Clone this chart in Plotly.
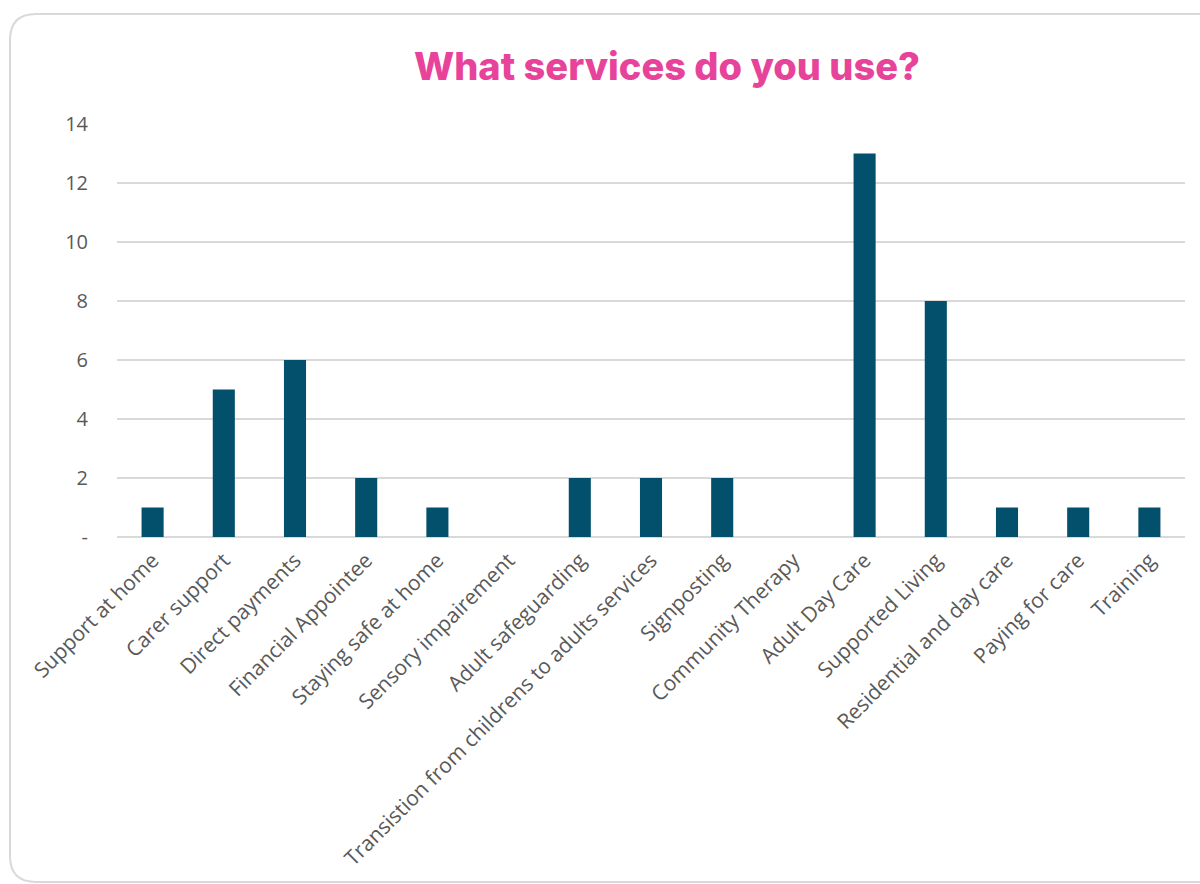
import plotly.graph_objects as go

# Survey responses: which services people use
services = [
    "Support at home", "Carer support", "Direct payments", "Financial Appointee",
    "Staying safe at home", "Sensory impairement", "Adult safeguarding",
    "Transistion from childrens to adults services", "Signposting",
    "Community Therapy", "Adult Day Care", "Supported Living",
    "Residential and day care", "Paying for care", "Training",
]
counts = [1, 5, 6, 2, 1, 0, 2, 2, 2, 0, 13, 8, 1, 1, 1]

y_ticks = [0, 2, 4, 6, 8, 10, 12, 14]
y_tick_text = ["-", "2", "4", "6", "8", "10", "12", "14"]

W, H = 1200, 884
L, R, T, B = 117, 15, 124, 347

fig = go.Figure(
    go.Bar(
        x=services,
        y=counts,
        marker=dict(color="#02506B", line=dict(width=0)),
        hoverinfo="x+y",
    )
)

# card outline with rounded corners, in pixel units converted to paper coords
def px(x):
    return (x - L) / (W - L - R)

def py(y):
    return (H - B - y) / (H - T - B)

r = 26
x0, y0, y1 = 10, 14, 882
path = (
    f"M {px(W + 5)},{py(y0)} L {px(x0 + r)},{py(y0)} "
    f"Q {px(x0)},{py(y0)} {px(x0)},{py(y0 + r)} "
    f"L {px(x0)},{py(y1 - r)} "
    f"Q {px(x0)},{py(y1)} {px(x0 + r)},{py(y1)} "
    f"L {px(W + 5)},{py(y1)}"
)

fig.update_layout(
    width=W,
    height=H,
    margin=dict(l=L, r=R, t=T, b=B, pad=0),
    paper_bgcolor="white",
    plot_bgcolor="white",
    bargap=0.69,
    showlegend=False,
    title=dict(
        text="What services do you use?",
        x=667 / W,
        xanchor="center",
        y=1 - 67 / H,
        yanchor="middle",
        font=dict(family="Inter, Lato, sans-serif", size=38, color="#E8439A", weight=800),
    ),
    font=dict(family="Open Sans, sans-serif", color="#595959", size=20),
    shapes=[
        dict(
            type="path",
            path=path,
            xref="paper",
            yref="paper",
            line=dict(color="#d9d9d9", width=2),
            layer="below",
        )
    ],
)

fig.update_xaxes(
    tickangle=-45,
    showgrid=False,
    showline=False,
    ticks="",
    ticklabelstandoff=6,
    tickfont=dict(size=21, color="#595959"),
)
fig.update_yaxes(
    range=[0, 14],
    tickvals=y_ticks,
    ticktext=y_tick_text,
    showgrid=True,
    gridcolor="#d9d9d9",
    gridwidth=1.5,
    zeroline=True,
    zerolinecolor="#d9d9d9",
    zerolinewidth=1.5,
    ticks="",
    ticklabelstandoff=28,
    tickfont=dict(size=20, color="#595959"),
)

fig.write_html("out.html")
